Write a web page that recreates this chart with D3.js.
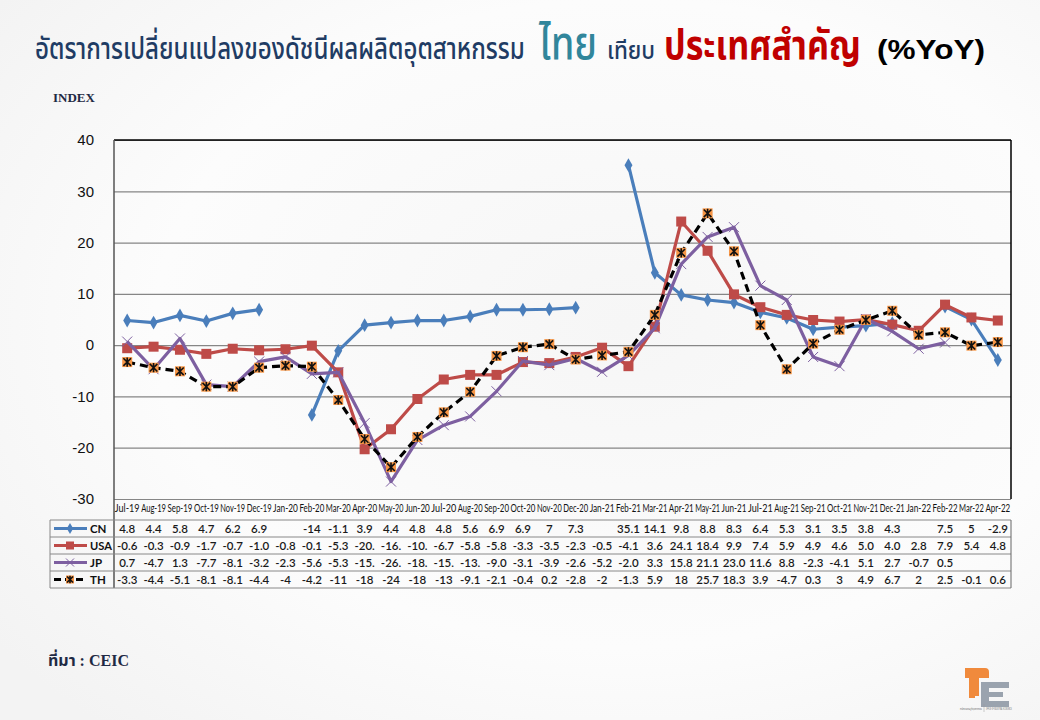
<!DOCTYPE html>
<html><head><meta charset="utf-8">
<script src="https://cdn.jsdelivr.net/npm/d3@7"></script>
<style>body{margin:0;background:#fff}svg{display:block}</style>
</head><body>
<svg id="c" width="1040" height="720"></svg>
<script>
const categories = ["Jul-19","Aug-19","Sep-19","Oct-19","Nov-19","Dec-19","Jan-20","Feb-20","Mar-20","Apr-20","May-20","Jun-20","Jul-20","Aug-20","Sep-20","Oct-20","Nov-20","Dec-20","Jan-21","Feb-21","Mar-21","Apr-21","May-21","Jun-21","Jul-21","Aug-21","Sep-21","Oct-21","Nov-21","Dec-21","Jan-22","Feb-22","Mar-22","Apr-22"];
const cnValues  = [4.8,4.4,5.8,4.7,6.2,6.9,null,-13.6,-1.1,3.9,4.4,4.8,4.8,5.6,6.9,6.9,7,7.3,null,35.1,14.1,9.8,8.8,8.3,6.4,5.3,3.1,3.5,3.8,4.3,null,7.5,5,-2.9];
const usaValues = [-0.6,-0.3,-0.9,-1.7,-0.7,-1.0,-0.8,-0.1,-5.3,-20.3,-16.4,-10.5,-6.7,-5.8,-5.8,-3.3,-3.5,-2.3,-0.5,-4.1,3.6,24.1,18.4,9.9,7.4,5.9,4.9,4.6,5.0,4.0,2.8,7.9,5.4,4.8];
const jpValues  = [0.7,-4.7,1.3,-7.7,-8.1,-3.2,-2.3,-5.6,-5.3,-15.2,-26.6,-18.5,-15.6,-13.9,-9.0,-3.1,-3.9,-2.6,-5.2,-2.0,3.3,15.8,21.1,23.0,11.6,8.8,-2.3,-4.1,5.1,2.7,-0.7,0.5,null,null];
const thValues  = [-3.3,-4.4,-5.1,-8.1,-8.1,-4.4,-4,-4.2,-10.7,-18.3,-23.8,-17.9,-13.1,-9.1,-2.1,-0.4,0.2,-2.8,-2,-1.3,5.9,18,25.7,18.3,3.9,-4.7,0.3,3,4.9,6.7,2,2.5,-0.1,0.6];
const seriesNames = ["CN","USA","JP","TH"];
const yTicks = [40,30,20,10,0,-10,-20,-30];

const seriesData = [cnValues, usaValues, jpValues, thValues];
const styles = [
  {color:"#4A7EBB", marker:"diamond", dash:null, fmt:"general"},
  {color:"#BE4B48", marker:"square", dash:null, fmt:"fixed"},
  {color:"#7D5FA0", marker:"x", dash:null, fmt:"fixed"},
  {color:"#000000", marker:"star", dash:"8,5", fmt:"general"}
];

const svg = d3.select("#c");
const defs = svg.append("defs");
const g1 = defs.append("radialGradient").attr("id","bg").attr("cx","60%").attr("cy","45%").attr("r","75%");
g1.append("stop").attr("offset","0%").attr("stop-color","#f6f6f6");
g1.append("stop").attr("offset","60%").attr("stop-color","#fcfcfc");
g1.append("stop").attr("offset","100%").attr("stop-color","#f3f3f3");
svg.append("rect").attr("width",1040).attr("height",720).attr("fill","url(#bg)");

// place a text scaled horizontally to a width (shrinkOnly: only shrink)
function fitText(parent, str, px, py, w, anchor, attrs, shrinkOnly) {
  const t = parent.append("text").attr("x",0).attr("y",0).attr("text-anchor",anchor).text(str);
  Object.entries(attrs).forEach(([k, v]) => t.attr(k, v));
  const n = t.node().getComputedTextLength();
  let s = n > 0 ? w / n : 1;
  if (shrinkOnly) s = Math.min(1, s);
  t.attr("transform", `translate(${px},${py}) scale(${s},1)`);
  return t;
}

const L = 114, R = 1011, T = 140, B = 499;
const x = d3.scaleBand().domain(categories).range([L, R]);
const y = d3.scaleLinear().domain([-30, 40]).range([B, T]);
const cx = c => x(c) + x.bandwidth() / 2;

// gridlines
svg.append("g").attr("transform",`translate(${L},0)`)
  .call(d3.axisLeft(y).tickValues(yTicks).tickSize(-(R - L)).tickFormat(""))
  .call(g => g.select(".domain").remove())
  .call(g => g.selectAll("line").attr("stroke","#868686").attr("stroke-width",1.2));
// y labels
svg.append("g").attr("transform",`translate(94,0)`)
  .call(d3.axisLeft(y).tickValues(yTicks).tickSize(0).tickPadding(0).tickFormat(d => String(d)))
  .call(g => g.select(".domain").remove())
  .call(g => g.selectAll("text").attr("font-family","'Liberation Sans',Arial,sans-serif").attr("font-size",15).attr("fill","#111").attr("text-anchor","end"));

// plot frame
svg.append("line").attr("x1",L).attr("x2",R).attr("y1",T).attr("y2",T).attr("stroke","#000").attr("stroke-width",1.5);
svg.append("line").attr("x1",L).attr("x2",L).attr("y1",T).attr("y2",588).attr("stroke","#555").attr("stroke-width",1.5);
svg.append("line").attr("x1",R).attr("x2",R).attr("y1",T).attr("y2",B).attr("stroke","#000").attr("stroke-width",1.5);

// category labels (scaled to band width)
const catG = svg.append("g");
categories.forEach(c => {
  fitText(catG, c, cx(c), B + 13, x.bandwidth() - 1.5, "middle",
    {"font-family":"Lato,'Open Sans',sans-serif","font-size":11,"fill":"#111"}, true);
});

function marker(sel, type, px, py, color, s) {
  s = s || 1;
  if (type === "diamond") {
    sel.append("path").attr("d", d3.symbol(d3.symbolDiamond, 55 * s * s)()).attr("transform",`translate(${px},${py})`).attr("fill",color);
  } else if (type === "square") {
    const w = 10 * s;
    sel.append("rect").attr("x",px - w/2).attr("y",py - w/2).attr("width",w).attr("height",w).attr("fill",color);
  } else if (type === "x") {
    const h = 5 * s;
    sel.append("path").attr("d",`M${px-h},${py-h}L${px+h},${py+h}M${px-h},${py+h}L${px+h},${py-h}`).attr("stroke",color).attr("stroke-width",1);
  } else if (type === "star") {
    const w = 10 * s, h = 3.8 * s;
    sel.append("rect").attr("x",px - w/2).attr("y",py - w/2).attr("width",w).attr("height",w).attr("fill","#F79646");
    sel.append("path").attr("d",`M${px-h},${py-h}L${px+h},${py+h}M${px-h},${py+h}L${px+h},${py-h}M${px},${py-h-0.8}L${px},${py+h+0.8}`).attr("stroke","#111").attr("stroke-width",1.6);
  }
}

const lineGen = d3.line().defined(d => d.v != null).x(d => cx(d.c)).y(d => y(d.v));
seriesData.forEach((vals, i) => {
  const st = styles[i];
  const pts = categories.map((c, j) => ({c, v: vals[j]}));
  const g = svg.append("g");
  g.append("path").datum(pts).attr("d", lineGen).attr("fill","none")
    .attr("stroke", st.color).attr("stroke-width", 3.2).attr("stroke-linejoin","round")
    .attr("stroke-dasharray", st.dash);
  pts.filter(d => d.v != null).forEach(d => marker(g, st.marker, cx(d.c), y(d.v), st.color));
});

// data table
const rowTop = 520, rowH = 17, tL = 50;
function fmt(v, kind) {
  if (v == null) return "";
  if (kind === "fixed") { let s = v.toFixed(1); return s.length > 4 ? s.slice(0, 4) : s; }
  let s = String(v);
  return s.length > 4 ? String(Math.round(v)) : s;
}
const tbl = svg.append("g");
for (let k = 0; k <= seriesNames.length; k++) {
  tbl.append("line").attr("x1",tL).attr("x2",R).attr("y1",rowTop + k*rowH).attr("y2",rowTop + k*rowH).attr("stroke","#888").attr("stroke-width",1);
}
tbl.append("line").attr("x1",tL).attr("x2",tL).attr("y1",rowTop).attr("y2",rowTop + 4*rowH).attr("stroke","#888");
tbl.append("line").attr("x1",R).attr("x2",R).attr("y1",rowTop).attr("y2",rowTop + 4*rowH).attr("stroke","#666");
seriesNames.forEach((name, i) => {
  const st = styles[i];
  const ym = rowTop + i*rowH + rowH/2;
  tbl.append("line").attr("x1",54).attr("x2",87).attr("y1",ym).attr("y2",ym).attr("stroke",st.color).attr("stroke-width",3).attr("stroke-dasharray", st.dash ? "7,4" : null);
  marker(tbl, st.marker, 70, ym, st.color, 0.8);
  fitText(tbl, name, 90, ym + 4, 22, "start",
    {"font-family":"Lato,'Open Sans',sans-serif","font-size":11.5,"font-weight":700,"fill":"#111"}, true);
  seriesData[i].forEach((v, j) => {
    fitText(tbl, fmt(v, st.fmt), cx(categories[j]), ym + 4, x.bandwidth() - 2, "middle",
      {"font-family":"Lato,'Open Sans',sans-serif","font-size":11.5,"font-weight":600,"fill":"#1a1a1a"}, true);
  });
});

// title
const thFont = "'Noto Sans Thai','Noto Sans Thai UI','Noto Sans',sans-serif";
const titleParts = [
  {t:"อัตราการเปลี่ยนแปลงของดัชนีผลผลิตอุตสาหกรรม", x:35, w:490, size:31, color:"#1F3C64", weight:500},
  {t:"ไทย", x:539, w:58, size:46, color:"#31869B", weight:500},
  {t:"เทียบ", x:607, w:48, size:24, color:"#1F3C64", weight:500},
  {t:"ประเทศสำคัญ", x:664, w:197, size:41, color:"#C00000", weight:700},
  {t:"(%YoY)", x:877, w:108, size:28, color:"#000", weight:700}
];
titleParts.forEach(p => {
  fitText(svg, p.t, p.x, 59, p.w, "start", {
    "font-family": p.t === "(%YoY)" ? "'Liberation Sans',Arial,sans-serif" : thFont,
    "font-size": p.size, "font-weight": p.weight, "fill": p.color
  }, false);
});
svg.append("text").attr("x",53).attr("y",102).text("INDEX")
  .attr("font-family","'Liberation Serif','Times New Roman',serif").attr("font-size",13).attr("font-weight",700).attr("fill","#1F2A44");
svg.append("text").attr("x",48).attr("y",666).text("ที่มา : CEIC")
  .attr("font-family","'Liberation Serif',"+thFont).attr("font-size",16).attr("font-weight",700).attr("fill","#1F2A44");

// logo
const lg = svg.append("g");
lg.append("path").attr("d","M965,668 h20 a4,4 0 0 1 4,4 v6 h-10 v18 h-10 v-18 h-4 z").attr("fill","#F08A3C");
lg.append("rect").attr("x",969).attr("y",680).attr("width",6).attr("height",18).attr("fill","#F08A3C");
lg.append("path").attr("d","M981,682 h28 v6 h-20 v4 h14 v5 h-14 v4 h20 v6 h-28 z").attr("fill","#9AA3AE");
lg.append("line").attr("x1",984).attr("x2",984).attr("y1",704).attr("y2",712).attr("stroke","#999").attr("stroke-width",0.5);
fitText(lg, "สำนักงานเศรษฐกิจอุตสาหกรรม", 960, 710, 22, "start", {"font-size":4,"fill":"#666","font-family":thFont}, false);
fitText(lg, "OFFICE OF INDUSTRIAL ECONOMICS", 986, 710, 26, "start", {"font-size":3.5,"fill":"#666","font-family":"'Liberation Sans',sans-serif"}, false);
</script>
</body></html>
